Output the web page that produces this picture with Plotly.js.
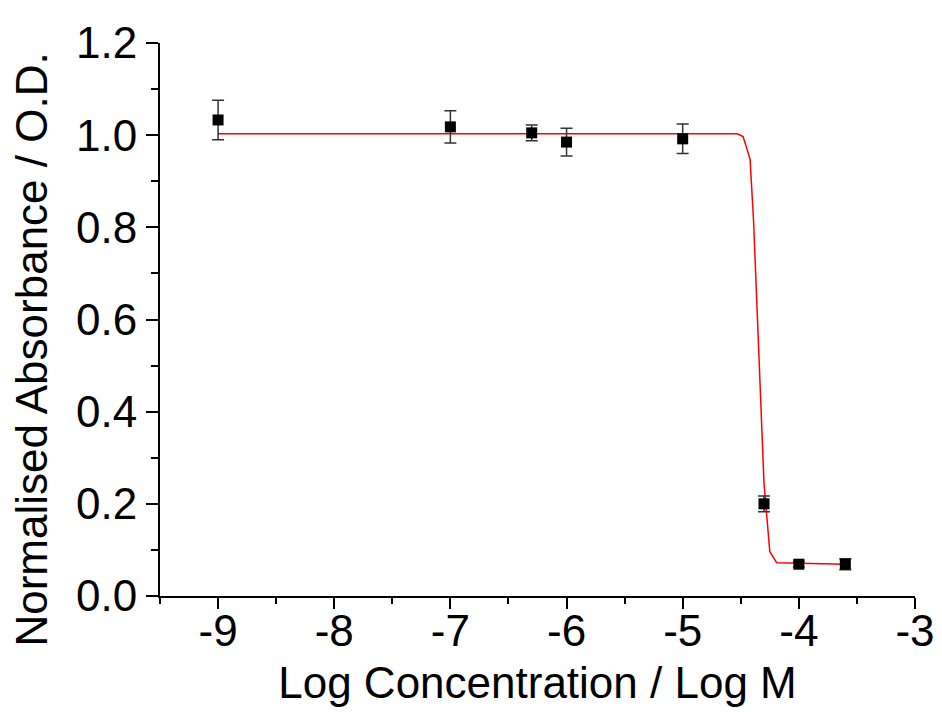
<!DOCTYPE html>
<html>
<head>
<meta charset="utf-8">
<script src="https://cdn.plot.ly/plotly-3.0.1.min.js"></script>
<style>html,body{margin:0;padding:0;background:#fff;}#chart{width:942px;height:713px;}</style>
</head>
<body>
<div id="chart"></div>
<script>
// Measured data points
const logConc = [-9, -7, -6.3, -6, -5, -4.3, -4, -3.6];
const absorbance = [1.033, 1.018, 1.005, 0.985, 0.992, 0.200, 0.069, 0.069];
const errors = [0.043, 0.035, 0.017, 0.030, 0.032, 0.017, 0.006, 0.012];

// Fitted curve
const fitX = [-9, -4.53, -4.48, -4.42, -4.39, -4.30, -4.25, -4.19, -3.6];
const fitY = [1.003, 1.003, 0.997, 0.948, 0.815, 0.245, 0.096, 0.072, 0.069];

const xTickVals = [-9, -8, -7, -6, -5, -4, -3];
const xTickText = ['-9', '-8', '-7', '-6', '-5', '-4', '-3'];
const yTickVals = [0.0, 0.2, 0.4, 0.6, 0.8, 1.0, 1.2];
const yTickText = ['0.0', '0.2', '0.4', '0.6', '0.8', '1.0', '1.2'];

const xTitle = 'Log Concentration / Log M';
const yTitle = 'Normalised Absorbance / O.D.';

const fontFamily = 'Liberation Sans, Arial, sans-serif';

const traces = [
  {
    x: fitX, y: fitY, type: 'scatter', mode: 'lines',
    line: {color: '#ff0000', width: 1.5},
    hoverinfo: 'skip', showlegend: false
  },
  {
    x: logConc, y: absorbance, type: 'scatter', mode: 'markers',
    marker: {symbol: 'square', size: 11, color: '#000000'},
    error_y: {type: 'data', array: errors, visible: true, color: '#333333', thickness: 1.5, width: 6},
    showlegend: false
  }
];

const layout = {
  width: 942, height: 713,
  margin: {l: 160, r: 27, t: 43, b: 117},
  paper_bgcolor: '#ffffff', plot_bgcolor: '#ffffff',
  font: {family: fontFamily, color: '#000000', size: 44},
  showlegend: false,
  xaxis: {
    range: [-9.5, -3],
    tickmode: 'array', tickvals: xTickVals, ticktext: xTickText,
    ticks: 'outside', ticklen: 11, tickwidth: 2, tickcolor: '#000',
    ticklabelstandoff: -16,
    minor: {dtick: 0.5, tick0: -9.5, ticks: 'outside', ticklen: 6, tickwidth: 2, tickcolor: '#000', showgrid: false},
    showline: true, linewidth: 2, linecolor: '#000',
    showgrid: false, zeroline: false,
    tickfont: {size: 44, family: fontFamily},
    title: {text: xTitle, font: {size: 44, family: fontFamily}, standoff: 13},
    automargin: false
  },
  yaxis: {
    range: [0, 1.2],
    tickmode: 'array', tickvals: yTickVals, ticktext: yTickText,
    ticks: 'outside', ticklen: 12, tickwidth: 2, tickcolor: '#000',
    minor: {dtick: 0.1, tick0: 0, ticks: 'outside', ticklen: 7, tickwidth: 2, tickcolor: '#000', showgrid: false},
    showline: true, linewidth: 2, linecolor: '#000',
    showgrid: false, zeroline: false,
    tickfont: {size: 44, family: fontFamily},
    automargin: false
  },
  annotations: [
    {
      text: yTitle, xref: 'paper', yref: 'paper',
      x: -0.170, y: 0.445, xanchor: 'center', yanchor: 'middle',
      textangle: -90, showarrow: false,
      font: {size: 44, family: fontFamily, color: '#000'}
    }
  ]
};

Plotly.newPlot('chart', traces, layout, {displayModeBar: false, staticPlot: true});
</script>
</body>
</html>
